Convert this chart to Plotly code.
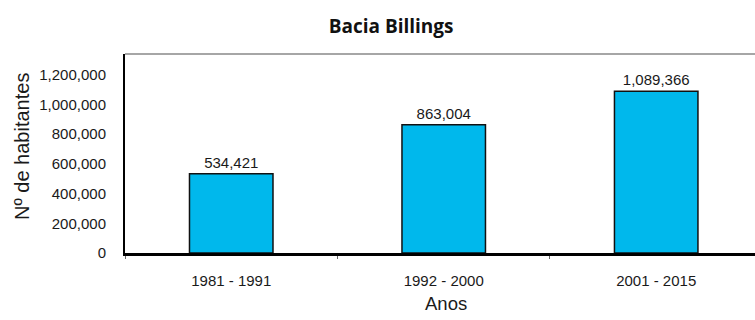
import plotly.graph_objects as go

categories = ["1981 - 1991", "1992 - 2000", "2001 - 2015"]
habitantes = [534421, 863004, 1089366]
value_labels = ["534,421", "863,004", "1,089,366"]
y_ticks = [0, 200000, 400000, 600000, 800000, 1000000, 1200000]
y_tick_labels = ["0", "200,000", "400,000", "600,000", "800,000", "1,000,000", "1,200,000"]

font_txt = "Liberation Sans, Arial, sans-serif"

fig = go.Figure(go.Bar(
    x=categories, y=habitantes,
    text=value_labels, textposition="outside",
    textfont=dict(family=font_txt, size=15, color="#1a1a1a"),
    marker=dict(color="#00B8EC", line=dict(color="#111111", width=1.5)),
    width=0.393, cliponaxis=False,
))

fig.update_layout(
    width=755, height=320,
    margin=dict(l=125, r=0, t=54, b=67),
    paper_bgcolor="white", plot_bgcolor="white",
    showlegend=False,
    title=dict(text="<b>Bacia Billings</b>", x=0.518, xanchor="center", y=0.918, yanchor="middle",
               font=dict(family="Open Sans, sans-serif", size=19, color="#111111")),
    xaxis=dict(
        type="category", range=[-0.5, 2.465],
        showline=True, linecolor="#000000", linewidth=2.5,
        tickson="boundaries", ticks="outside", ticklen=3, tickcolor="#666666", tickwidth=1,
        ticklabelstandoff=12,
        tickfont=dict(family=font_txt, size=15, color="#1a1a1a"),
        showgrid=False, zeroline=False,
    ),
    yaxis=dict(
        range=[0, 1340000],
        tickvals=y_ticks, ticktext=y_tick_labels,
        showline=True, linecolor="#000000", linewidth=2,
        ticks="", ticklabelstandoff=14,
        tickfont=dict(family=font_txt, size=15, color="#1a1a1a"),
        showgrid=False, zeroline=False,
    ),
    annotations=[
        dict(text="Nº de habitantes", xref="paper", yref="paper",
             x=(21.5 - 125) / 630, y=(253 - 146.5) / 199, xanchor="center", yanchor="middle",
             textangle=-90, showarrow=False,
             font=dict(family=font_txt, size=20, color="#1a1a1a")),
        dict(text="Anos", xref="paper", yref="paper",
             x=(446 - 125) / 630, y=(253 - 303) / 199, xanchor="center", yanchor="middle",
             showarrow=False,
             font=dict(family=font_txt, size=18.5, color="#1a1a1a")),
    ],
    shapes=[dict(type="line", xref="paper", yref="paper", x0=0, x1=1, y0=1, y1=1,
                 line=dict(color="#A6A6A6", width=2))],
)

fig.write_html("out.html")
